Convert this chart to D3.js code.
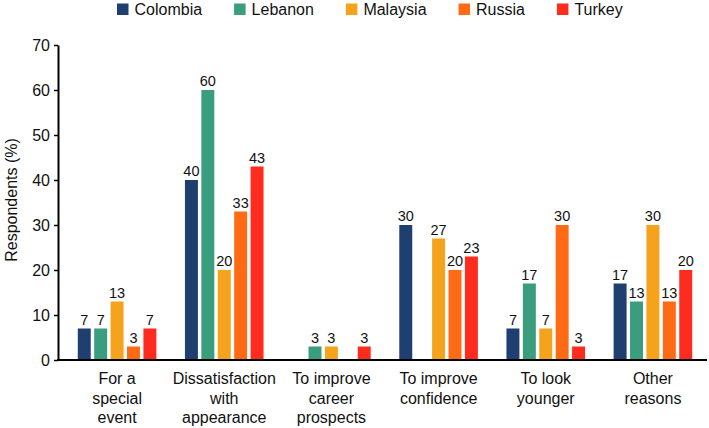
<!DOCTYPE html>
<html>
<head>
<meta charset="utf-8">
<script src="https://cdn.jsdelivr.net/npm/d3@7"></script>
<style>
  html, body { margin: 0; padding: 0; background: #fff; }
  svg { display: block; font-family: "Liberation Sans", Arial, Helvetica, sans-serif; }
</style>
</head>
<body>
<svg id="chart" width="709" height="428"></svg>
<script>
const categories = [
  ["For a", "special", "event"],
  ["Dissatisfaction", "with", "appearance"],
  ["To improve", "career", "prospects"],
  ["To improve", "confidence"],
  ["To look", "younger"],
  ["Other", "reasons"]
];
const seriesNames = ["Colombia", "Lebanon", "Malaysia", "Russia", "Turkey"];
const colombia = [7, 40, null, 30, 7, 17];
const lebanon  = [7, 60, 3, null, 17, 13];
const malaysia = [13, 20, 3, 27, 7, 30];
const russia   = [3, 33, null, 20, 30, 13];
const turkey   = [7, 43, 3, 23, 3, 20];
const yTicks = [0, 10, 20, 30, 40, 50, 60, 70];
const colors = ["#1e3f70", "#3a9d7d", "#f5a21c", "#ff6b14", "#fe2b1f"];

const seriesValues = [colombia, lebanon, malaysia, russia, turkey];
const catKeys = categories.map((c, i) => "c" + i);

const svg = d3.select("#chart");
const yAxisX = 58;

const y = d3.scaleLinear().domain([0, 70]).range([360, 45]);
const x0 = d3.scaleBand().domain(catKeys).range([63.5, 706.5]).paddingInner(0).paddingOuter(0);
const groupWidth = 78.6;
const x1 = d3.scaleBand().domain(seriesNames)
  .range([(x0.bandwidth() - groupWidth) / 2, (x0.bandwidth() + groupWidth) / 2])
  .paddingInner(0.21).paddingOuter(0);
const color = d3.scaleOrdinal().domain(seriesNames).range(colors);

// bars
const groups = svg.append("g").selectAll("g")
  .data(catKeys)
  .join("g")
  .attr("transform", d => `translate(${x0(d)},0)`);

groups.each(function(key, ci) {
  const g = d3.select(this);
  const data = seriesNames.map((s, si) => ({ s, v: seriesValues[si][ci] })).filter(d => d.v !== null);
  g.selectAll("rect").data(data).join("rect")
    .attr("x", d => x1(d.s))
    .attr("width", x1.bandwidth())
    .attr("y", d => y(d.v))
    .attr("height", d => y(0) - y(d.v))
    .attr("fill", d => color(d.s));
  g.selectAll("text").data(data).join("text")
    .attr("x", d => x1(d.s) + x1.bandwidth() / 2)
    .attr("y", d => y(d.v) - 4)
    .attr("text-anchor", "middle")
    .attr("font-size", 14.5)
    .attr("fill", "#111")
    .text(d => d.v);
});

// y axis
const yAxis = d3.axisLeft(y).tickValues(yTicks).tickSize(4).tickPadding(4).tickSizeOuter(0);
const yg = svg.append("g").attr("transform", `translate(${yAxisX},0)`).call(yAxis);
yg.select(".domain").attr("stroke", "#000").attr("stroke-width", 2);
yg.selectAll(".tick line").attr("stroke", "#000").attr("stroke-width", 1.5);
yg.selectAll(".tick text").attr("font-size", 16).attr("fill", "#111")
  .attr("font-family", "Liberation Sans, Arial, sans-serif");

// x axis line
const xAxis = d3.axisBottom(x0).tickSize(0).tickFormat("");
const xg = svg.append("g").attr("transform", `translate(0,${y(0)})`).call(xAxis);
xg.select(".domain").attr("d", `M${yAxisX - 1},0H707`).attr("stroke", "#000").attr("stroke-width", 2);

// category labels
const labels = svg.append("g").selectAll("text")
  .data(categories)
  .join("text")
  .attr("text-anchor", "middle")
  .attr("font-size", 16)
  .attr("fill", "#111")
  .attr("transform", (d, i) => `translate(${x0(catKeys[i]) + x0.bandwidth() / 2},384)`);
labels.each(function(lines) {
  d3.select(this).selectAll("tspan").data(lines).join("tspan")
    .attr("x", 0)
    .attr("y", (d, i) => i * 19.7)
    .text(d => d);
});

// y title
svg.append("text")
  .attr("transform", "translate(17,200) rotate(-90)")
  .attr("text-anchor", "middle")
  .attr("font-size", 16)
  .attr("fill", "#111")
  .text("Respondents (%)");

// legend
const legend = svg.append("g");
let lx = 117;
seriesNames.forEach((s, i) => {
  const item = legend.append("g").attr("transform", `translate(${lx},0)`);
  item.append("rect").attr("x", 0).attr("y", 3.5).attr("width", 11.5).attr("height", 11.5).attr("fill", color(s));
  const t = item.append("text").attr("x", 17.5).attr("y", 15).attr("font-size", 16).attr("fill", "#111").text(s);
  const w = t.node().getComputedTextLength();
  lx += 17.5 + w + 32;
});
</script>
</body>
</html>
